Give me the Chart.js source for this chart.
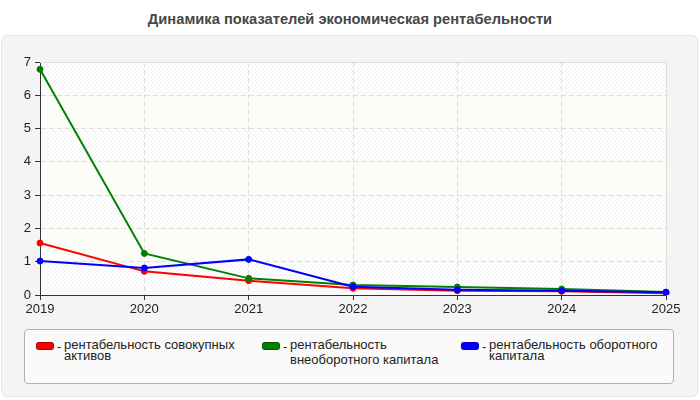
<!DOCTYPE html>
<html>
<head>
<meta charset="utf-8">
<script src="https://cdn.jsdelivr.net/npm/chart.js@4"></script>
<style>
  html, body { margin: 0; padding: 0; background: #fff; }
  body { width: 700px; height: 400px; position: relative; overflow: hidden; font-family: "Liberation Sans", Arial, sans-serif; }
  #title { position: absolute; left: 0; top: 11px; width: 700px; text-align: center; font-weight: bold; font-size: 14.7px; color: #474747; }
  #panel { position: absolute; left: 1px; top: 35px; width: 695px; height: 360px; background: #f4f4f4; border: 1px solid #e4e4e4; border-radius: 6px; }
  #chart { position: absolute; left: 0; top: 0; }
  #legend { position: absolute; left: 24px; top: 329px; width: 648px; height: 53px; background: #fafafa; border: 1px solid #b0b0b0; border-radius: 4px; font-size: 13px; color: #222; }
  .sw { position: absolute; width: 16px; height: 6px; border-radius: 3px; top: 12px; }
  .dash { position: absolute; top: 9px; }
  .txt { position: absolute; top: 9px; line-height: 11px; white-space: nowrap; }
</style>
</head>
<body>
<div id="title">Динамика показателей экономическая рентабельности</div>
<div id="panel"></div>
<canvas id="chart" width="700" height="330"></canvas>
<div id="legend"></div>
<script>
const years = ['2019', '2020', '2021', '2022', '2023', '2024', '2025'];
const totalAssetsReturn = [1.56, 0.71, 0.43, 0.20, 0.13, 0.11, 0.05];
const nonCurrentCapitalReturn = [6.78, 1.25, 0.50, 0.30, 0.24, 0.18, 0.09];
const currentCapitalReturn = [1.02, 0.81, 1.07, 0.25, 0.16, 0.13, 0.08];
const seriesNames = ['рентабельность совокупных активов', 'рентабельность внеоборотного капитала', 'рентабельность оборотного капитала'];
const legendLines = [['рентабельность совокупных', 'активов'], ['рентабельность', 'внеоборотного капитала'], ['рентабельность оборотного', 'капитала']];
const seriesColors = ['#ff0000', '#008000', '#0000ff'];
const yMin = 0, yMax = 7, yStep = 1;

// legend (HTML)
const legendPos = [{sw: 11, dash: 32, txt: 39, gap: 0}, {sw: 237, dash: 258, txt: 265, gap: 4}, {sw: 436, dash: 457, txt: 464, gap: 0}];
const legendEl = document.getElementById('legend');
legendLines.forEach((lines, i) => {
  const p = legendPos[i];
  const sw = document.createElement('div');
  sw.className = 'sw';
  sw.style.left = p.sw + 'px';
  sw.style.background = seriesColors[i];
  sw.style.border = '1px solid rgba(0,0,0,0.3)';
  legendEl.appendChild(sw);
  const d = document.createElement('div');
  d.className = 'dash'; d.style.left = p.dash + 'px'; d.textContent = '-';
  legendEl.appendChild(d);
  const t = document.createElement('div');
  t.className = 'txt'; t.style.left = p.txt + 'px';
  t.innerHTML = lines[0] + '<br><span style="display:inline-block;margin-top:' + p.gap + 'px">' + lines[1] + '</span>';
  legendEl.appendChild(t);
});

// hatch pattern
function makePattern(ctx, base, line) {
  const c = document.createElement('canvas');
  c.width = 4; c.height = 4;
  const g = c.getContext('2d');
  g.fillStyle = base; g.fillRect(0, 0, 4, 4);
  g.strokeStyle = line; g.lineWidth = 1;
  g.beginPath(); g.moveTo(0, 4); g.lineTo(4, 0); g.moveTo(-1, 1); g.lineTo(1, -1); g.moveTo(3, 5); g.lineTo(5, 3); g.stroke();
  return ctx.createPattern(c, 'repeat');
}

const bgPlugin = {
  id: 'bg',
  beforeDraw(chart) {
    const {ctx, chartArea: a, scales: {y}} = chart;
    const hatch = makePattern(ctx, '#ffffff', '#efefef');
    ctx.save();
    for (let v = yMin; v < yMax; v += yStep) {
      const top = y.getPixelForValue(v + yStep), bot = y.getPixelForValue(v);
      ctx.fillStyle = (v % 2 === 0) ? hatch : '#fcfdf6';
      ctx.fillRect(a.left, top, a.right - a.left, bot - top);
    }
    ctx.restore();
  },
  beforeDatasetsDraw(chart) {
    const {ctx, chartArea: a} = chart;
    ctx.save();
    ctx.strokeStyle = '#dddddd';
    ctx.lineWidth = 1;
    ctx.beginPath();
    ctx.moveTo(a.left, a.top + 0.5); ctx.lineTo(a.right + 0.5, a.top + 0.5); ctx.lineTo(a.right + 0.5, a.bottom);
    ctx.stroke();
    ctx.restore();
  }
};

const datasets = [totalAssetsReturn, nonCurrentCapitalReturn, currentCapitalReturn].map((data, i) => ({
  label: seriesNames[i],
  data: data,
  borderColor: seriesColors[i],
  backgroundColor: seriesColors[i],
  pointBackgroundColor: seriesColors[i],
  pointBorderColor: seriesColors[i],
  pointRadius: 3,
  pointBorderWidth: 1,
  borderWidth: 2,
  tension: 0,
  fill: false,
  order: 3 - i
}));

new Chart(document.getElementById('chart'), {
  type: 'line',
  data: { labels: years, datasets },
  options: {
    responsive: false,
    animation: false,
    devicePixelRatio: 1,
    layout: { padding: { left: 0, top: 62, right: 34, bottom: 0 } },
    plugins: { legend: { display: false }, title: { display: false }, tooltip: { enabled: false } },
    scales: {
      x: {
        offset: false,
        grid: { color: '#dddddd', tickColor: '#333333', tickLength: 5, drawTicks: true },
        border: { color: '#333333', width: 1, dash: [5, 3] },
        ticks: { color: '#222222', font: { family: '"Liberation Sans", Arial', size: 13 }, padding: 2, maxRotation: 0, autoSkip: false },
        afterFit(s) { s.height = 35; }
      },
      y: {
        min: yMin, max: yMax,
        grid: { color: '#dddddd', tickColor: '#333333', tickLength: 5, drawTicks: true },
        border: { color: '#333333', width: 1, dash: [5, 3] },
        ticks: { stepSize: yStep, color: '#222222', font: { family: '"Liberation Sans", Arial', size: 13 }, padding: 4 },
        afterFit(s) { s.width = 40; }
      }
    }
  },
  plugins: [bgPlugin]
});
</script>
</body>
</html>
